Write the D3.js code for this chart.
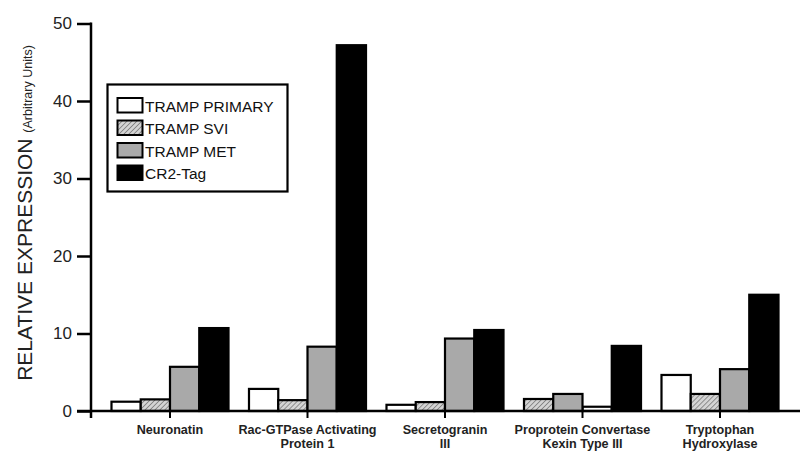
<!DOCTYPE html>
<html><head><meta charset="utf-8">
<script src="https://cdn.jsdelivr.net/npm/d3@7"></script>
<style>body{margin:0;background:#fff}svg{display:block;font-family:"Liberation Sans",Arial,sans-serif}</style>
</head><body><svg id="c" width="802" height="451"></svg>
<script>
const categories = [["Neuronatin"],["Rac-GTPase Activating","Protein 1"],["Secretogranin","III"],["Proprotein Convertase","Kexin Type III"],["Tryptophan","Hydroxylase"]];
const seriesNames = ["TRAMP PRIMARY","TRAMP SVI","TRAMP MET","CR2-Tag"];
const tPrimary = [1.2, 2.85, 0.8, 0.55, 4.65];
const tSvi     = [1.5, 1.4, 1.15, 1.55, 2.2];
const tMet     = [5.7, 8.3, 9.35, 2.2, 5.4];
const cr2Tag   = [10.7, 47.2, 10.45, 8.4, 15.0];
// slot position of each series within a group, as drawn in the figure
const slotOrder = [[0,1,2,3],[0,1,2,3],[0,1,2,3],[2,0,1,3],[0,1,2,3]];
const yTicks = [0,10,20,30,40,50];
const seriesValues = [tPrimary, tSvi, tMet, cr2Tag];

const svg = d3.select("#c");
const defs = svg.append("defs");
const pat = defs.append("pattern").attr("id","hatch").attr("patternUnits","userSpaceOnUse")
  .attr("width",3.5).attr("height",3.5).attr("patternTransform","rotate(45)");
pat.append("rect").attr("width",3.5).attr("height",3.5).attr("fill","#d4d4d4");
pat.append("line").attr("x1",0).attr("y1",0).attr("x2",0).attr("y2",3.5).attr("stroke","#707070").attr("stroke-width",1.4);
const fills = ["#ffffff","url(#hatch)","#a9a9a9","#000000"];

const x = d3.scaleBand().domain(d3.range(categories.length)).range([101.25,788.75]).paddingInner(0.149).paddingOuter(0.0745);
const xs = d3.scaleBand().domain(d3.range(4)).range([0,x.bandwidth()]);
const y = d3.scaleLinear().domain([0,50]).range([411,23.5]);

// bars
const g = svg.append("g");
categories.forEach((c,i)=>{
  seriesValues.forEach((vals,s)=>{
    const v = vals[i];
    g.append("rect")
      .attr("x", x(i)+xs(slotOrder[i][s]))
      .attr("y", y(v))
      .attr("width", xs.bandwidth())
      .attr("height", y(0)-y(v))
      .attr("fill", fills[s]).attr("stroke","#000").attr("stroke-width",2.2);
  });
});

// y axis
const ya = svg.append("g").attr("transform","translate(91,0)")
  .call(d3.axisLeft(y).tickValues(yTicks).tickSize(14).tickPadding(5));
ya.select(".domain").remove();
ya.selectAll(".tick line").attr("stroke","#000").attr("stroke-width",2.5);
ya.selectAll(".tick text").attr("font-size",17).attr("fill","#222").attr("font-family","Liberation Sans, Arial");
svg.append("line").attr("x1",91).attr("x2",91).attr("y1",y(50)-1).attr("y2",418).attr("stroke","#000").attr("stroke-width",2.5);

// x axis baseline
svg.append("line").attr("x1",77).attr("x2",800).attr("y1",y(0)).attr("y2",y(0)).attr("stroke","#000").attr("stroke-width",2.5);
const xa = svg.append("g").attr("transform",`translate(0,${y(0)})`)
  .call(d3.axisBottom(x).tickSize(7).tickFormat(""));
xa.select(".domain").remove();
xa.selectAll(".tick line").attr("stroke","#000").attr("stroke-width",2);
categories.forEach((c,i)=>{
  const t = svg.append("text").attr("x",x(i)+x.bandwidth()/2).attr("y",433.5)
    .attr("text-anchor","middle").attr("font-size",12.6).attr("font-weight","bold").attr("fill","#222");
  c.forEach((line,k)=>t.append("tspan").attr("x",x(i)+x.bandwidth()/2).attr("dy",k?14:0).text(line));
});

// y label
const yl = svg.append("text").attr("transform","translate(31.5,213) rotate(-90)").attr("text-anchor","middle").attr("fill","#222");
yl.append("tspan").attr("font-size",21).text("RELATIVE EXPRESSION ");
yl.append("tspan").attr("font-size",12.5).text("(Arbitrary Units)");

// legend
const lg = svg.append("g");
lg.append("rect").attr("x",107.5).attr("y",84.5).attr("width",180).attr("height",107).attr("fill","#fff").attr("stroke","#000").attr("stroke-width",2.2);
seriesNames.forEach((n,s)=>{
  const yy = 98 + s*22.5;
  lg.append("rect").attr("x",117.5).attr("y",yy).attr("width",25).attr("height",14.5).attr("fill",fills[s]).attr("stroke","#000").attr("stroke-width",2);
  lg.append("text").attr("x",145).attr("y",yy+13.5).attr("font-size",15.5).attr("fill","#111").text(n);
});
</script></body></html>
